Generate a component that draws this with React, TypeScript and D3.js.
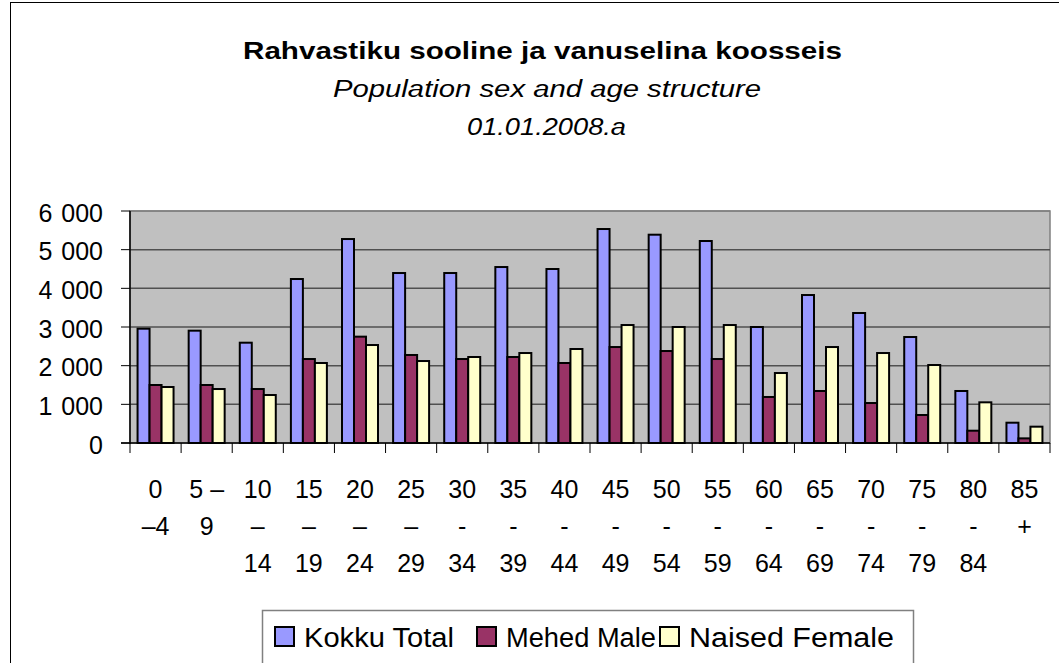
import React, { useEffect, useRef } from 'react';
import * as d3 from 'd3';

// age groups, each label is split on the rows it wraps to in the original
const ageLabels: string[][] = [
  ['0', '\u20134', ''],
  ['5 \u2013', '9', ''],
  ['10', '\u2013', '14'],
  ['15', '\u2013', '19'],
  ['20', '\u2013', '24'],
  ['25', '\u2013', '29'],
  ['30', '-', '34'],
  ['35', '-', '39'],
  ['40', '-', '44'],
  ['45', '-', '49'],
  ['50', '-', '54'],
  ['55', '-', '59'],
  ['60', '-', '64'],
  ['65', '-', '69'],
  ['70', '-', '74'],
  ['75', '-', '79'],
  ['80', '-', '84'],
  ['85', '+', ''],
];

const totalValues = [2956, 2905, 2594, 4241, 5275, 4396, 4396, 4551, 4500, 5534, 5387, 5224, 3000, 3827, 3362, 2741, 1345, 525];
const maleValues = [1500, 1500, 1396, 2172, 2750, 2276, 2172, 2224, 2069, 2482, 2379, 2172, 1190, 1345, 1034, 724, 318, 120];
const femaleValues = [1448, 1396, 1241, 2069, 2534, 2120, 2224, 2327, 2431, 3051, 3000, 3051, 1810, 2482, 2327, 2017, 1052, 422];

const seriesNames = ['Kokku Total', 'Mehed Male', 'Naised Female'];
const seriesColors = ['#9999FF', '#993366', '#FFFFCC'];
const yTicks = [0, 1000, 2000, 3000, 4000, 5000, 6000];

const titleLines = ['Rahvastiku sooline ja vanuselina koosseis', 'Population sex and age structure', '01.01.2008.a'];

const FONT = '"Liberation Sans", Arial, sans-serif';

function App() {
  const ref = useRef<SVGSVGElement>(null);

  useEffect(() => {
    const W = 1059, H = 663;
    const plot = { left: 130, right: 1050, top: 211, bottom: 443 };

    const svg = d3.select(ref.current);
    svg.selectAll('*').remove();
    svg.attr('width', W).attr('height', H);

    // chart frame
    svg.append('rect').attr('width', W).attr('height', H).attr('fill', '#fff');
    svg.append('rect')
      .attr('x', 10.5).attr('y', 2.5).attr('width', 1100).attr('height', 700)
      .attr('fill', 'none').attr('stroke', '#000').attr('stroke-width', 1);

    // titles (the original font is wider than Liberation, so stretch to its width)
    const tt = svg.append('g').attr('font-family', FONT).attr('font-size', 23);
    tt.append('text').attr('x', 243).attr('y', 59)
      .attr('font-weight', 'bold').attr('textLength', 599).attr('lengthAdjust', 'spacingAndGlyphs')
      .text(titleLines[0]);
    tt.append('text').attr('x', 333).attr('y', 97)
      .attr('font-style', 'italic').attr('textLength', 428).attr('lengthAdjust', 'spacingAndGlyphs')
      .text(titleLines[1]);
    tt.append('text').attr('x', 467).attr('y', 135)
      .attr('font-style', 'italic').attr('textLength', 159).attr('lengthAdjust', 'spacingAndGlyphs')
      .text(titleLines[2]);

    const cats = ageLabels.map((d, i) => String(i));
    let x0 = d3.scaleBand().domain(cats).range([plot.left, plot.right]).padding(0);
    let x1 = d3.scaleBand().domain(seriesNames).range([0, x0.bandwidth()]).paddingInner(0).paddingOuter(0.63);
    let y = d3.scaleLinear().domain([0, 6000]).range([plot.bottom, plot.top]);

    const fmt = d3.formatLocale({ thousands: ' ', grouping: [3], decimal: ',', currency: ['', ''] }).format(',d');

    // plot background
    svg.append('rect')
      .attr('x', plot.left).attr('y', plot.top)
      .attr('width', plot.right - plot.left).attr('height', plot.bottom - plot.top)
      .attr('fill', '#C0C0C0').attr('stroke', '#808080').attr('stroke-width', 1.5);

    // gridlines
    svg.append('g').selectAll('line')
      .data(yTicks.filter(t => t > 0))
      .enter().append('line')
      .attr('x1', plot.left).attr('x2', plot.right)
      .attr('y1', d => y(d)).attr('y2', d => y(d))
      .attr('stroke', d => (d === 6000 ? '#808080' : '#505050'))
      .attr('stroke-width', 1.5);

    // bars
    const series = [totalValues, maleValues, femaleValues];
    series.forEach((vals, s) => {
      svg.append('g').selectAll('rect')
        .data(vals)
        .enter().append('rect')
        .attr('x', (d, i) => x0(String(i))! + x1(seriesNames[s])!)
        .attr('width', x1.bandwidth())
        .attr('y', d => y(d))
        .attr('height', d => y(0) - y(d))
        .attr('fill', seriesColors[s])
        .attr('stroke', '#000')
        .attr('stroke-width', 2);
    });

    // y axis
    svg.append('line')
      .attr('x1', plot.left).attr('x2', plot.left)
      .attr('y1', plot.top).attr('y2', plot.bottom + 1)
      .attr('stroke', '#000').attr('stroke-width', 1.5);
    const ya = svg.append('g').attr('font-family', FONT).attr('font-size', 25);
    yTicks.forEach(t => {
      ya.append('line').attr('x1', plot.left - 9).attr('x2', plot.left)
        .attr('y1', y(t)).attr('y2', y(t)).attr('stroke', '#000').attr('stroke-width', 1);
      ya.append('text').attr('x', 103).attr('y', y(t) + 10.5)
        .attr('text-anchor', 'end').attr('word-spacing', 2).text(fmt(t));
    });

    // x axis
    svg.append('line')
      .attr('x1', plot.left - 9).attr('x2', plot.right)
      .attr('y1', plot.bottom).attr('y2', plot.bottom)
      .attr('stroke', '#000').attr('stroke-width', 1.5);
    const xa = svg.append('g').attr('font-family', FONT).attr('font-size', 25).attr('text-anchor', 'middle');
    cats.forEach((c, i) => {
      xa.append('line').attr('x1', x0(c)!).attr('x2', x0(c)!)
        .attr('y1', plot.bottom).attr('y2', plot.bottom + 10).attr('stroke', '#000');
      ageLabels[i].forEach((line, r) => {
        if (!line) return;
        xa.append('text')
          .attr('x', x0(c)! + x0.bandwidth() / 2)
          .attr('y', 498 + r * 37)
          .text(line);
      });
    });
    xa.append('line').attr('x1', plot.right).attr('x2', plot.right)
      .attr('y1', plot.bottom).attr('y2', plot.bottom + 10).attr('stroke', '#000');

    // legend
    const lg = svg.append('g').attr('font-family', FONT).attr('font-size', 27);
    lg.append('rect').attr('x', 262.5).attr('y', 610.5).attr('width', 651).attr('height', 60)
      .attr('fill', '#fff').attr('stroke', '#808080').attr('stroke-width', 1.5);
    const legendX = [275, 477, 660];
    const legendLen = [150, 150, 205];
    seriesNames.forEach((name, s) => {
      lg.append('rect').attr('x', legendX[s]).attr('y', 627).attr('width', 19).attr('height', 19)
        .attr('fill', seriesColors[s]).attr('stroke', '#000').attr('stroke-width', 2);
      lg.append('text').attr('x', legendX[s] + 29).attr('y', 646.5)
        .attr('textLength', legendLen[s]).attr('lengthAdjust', 'spacingAndGlyphs')
        .text(name);
    });
  }, []);

  return (
    <svg ref={ref} style={{ position: 'absolute', left: 0, top: 0, display: 'block' }}></svg>
  );
}

export default App;
